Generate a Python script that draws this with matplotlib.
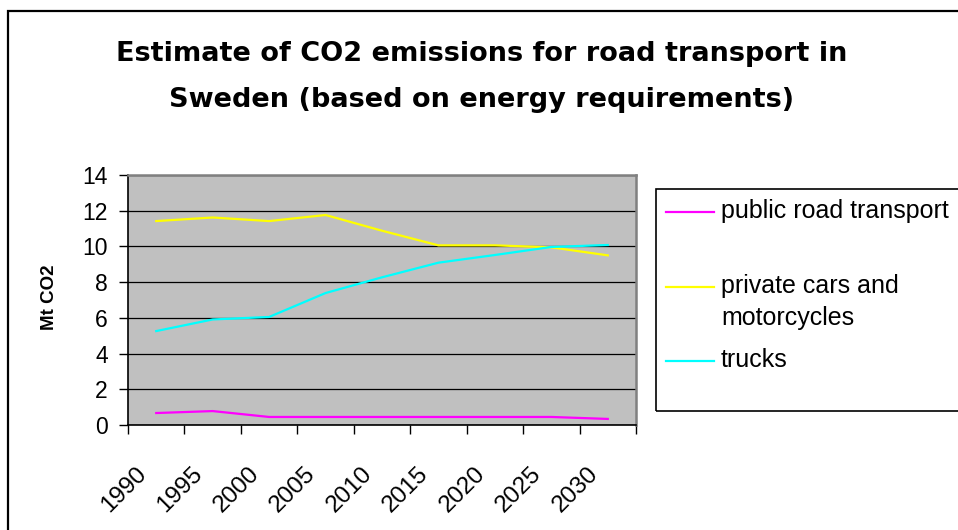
import matplotlib
matplotlib.use("Agg")
import matplotlib.pyplot as plt
from matplotlib.patches import Rectangle
from matplotlib.lines import Line2D
from matplotlib.transforms import ScaledTranslation

plt.rcParams['font.family'] = ['Liberation Sans', 'DejaVu Sans']

years = ['1990', '1995', '2000', '2005', '2010', '2015', '2020', '2025', '2030']
public_road = [0.67, 0.78, 0.45, 0.45, 0.45, 0.45, 0.45, 0.45, 0.34]
private_cars = [11.42, 11.62, 11.42, 11.76, 10.88, 10.06, 10.06, 9.95, 9.50]
trucks = [5.26, 5.91, 6.05, 7.39, 8.27, 9.09, 9.52, 9.97, 10.08]
series_names = ['public road transport', 'private cars and\nmotorcycles', 'trucks']
series_colors = ['#FF00FF', '#FFFF00', '#00FFFF']
y_ticks = [0, 2, 4, 6, 8, 10, 12, 14]
title_lines = ['Estimate of CO2 emissions for road transport in',
               'Sweden (based on energy requirements)']

W, H = 958, 530
fig = plt.figure(figsize=(W / 100, H / 100), dpi=100)

def fx(px):
    return px / W

def fy(py):
    return 1 - py / H

# outer chart border
fig.patches.append(Rectangle((fx(8), -0.2), 1.2, fy(11) + 0.2, transform=fig.transFigure,
                             fill=False, edgecolor='black', linewidth=1.6, zorder=0))

ax = fig.add_axes([fx(128), fy(425), fx(636) - fx(128), fy(175) - fy(425)])
ax.set_facecolor('#C0C0C0')

xs = [i + 0.5 for i in range(len(years))]
lines = []
for vals, c in zip([public_road, private_cars, trucks], series_colors):
    ln, = ax.plot(xs, vals, color=c, linewidth=1.6, zorder=3)
    lines.append(ln)

ax.set_xlim(0, len(years))
ax.set_ylim(0, 14)
ax.set_yticks(y_ticks)
ax.set_yticklabels([str(v) for v in y_ticks], fontsize=16.5)
ax.yaxis.grid(True, color='black', linewidth=0.9)
ax.set_axisbelow(True)

ax.set_xticks(range(len(years) + 1))
ax.set_xticklabels([])
ax.set_xticks(xs, minor=True)
ax.set_xticklabels(years, minor=True, fontsize=17.5, rotation=45, ha='right', va='top',
                   rotation_mode='anchor')
ax.tick_params(axis='x', which='major', direction='out', length=6.5, width=1, color='black')
ax.tick_params(axis='x', which='minor', length=0, pad=0)
ax.tick_params(axis='y', direction='out', length=6.5, width=1, pad=8)
off = ScaledTranslation(-21 / 100, -38 / 100, fig.dpi_scale_trans)
for lbl in ax.get_xticklabels(minor=True):
    lbl.set_transform(lbl.get_transform() + off)

for s in ['left', 'bottom']:
    ax.spines[s].set_color('black')
    ax.spines[s].set_linewidth(1.2)
for s in ['top', 'right']:
    ax.spines[s].set_color('#808080')
    ax.spines[s].set_linewidth(1.8)

fig.text(fx(50), fy(297), 'Mt CO2', rotation=90, fontsize=13.5, fontweight='bold',
         ha='center', va='center')

for t, base in zip(title_lines, [61, 107]):
    fig.text(fx(482), fy(base), t, fontsize=19.5, fontweight='bold',
             family=['DejaVu Sans'], ha='center', va='baseline')

# legend
fig.patches.append(Rectangle((fx(656), fy(411)), 1.0, fy(189) - fy(411), transform=fig.transFigure,
                             fill=False, edgecolor='black', linewidth=1.2))
handle_y = [212, 287, 361]
text_base = [218, 293, 367]
for ln, name, hy, tb in zip(lines, series_names, handle_y, text_base):
    fig.lines.append(Line2D([fx(666), fx(714)], [fy(hy), fy(hy)], transform=fig.transFigure,
                            color=ln.get_color(), linewidth=1.6))
    for k, part in enumerate(name.split('\n')):
        fig.text(fx(721), fy(tb + 32 * k), part, fontsize=18, ha='left', va='baseline')

fig.savefig('out.png', dpi=100)
